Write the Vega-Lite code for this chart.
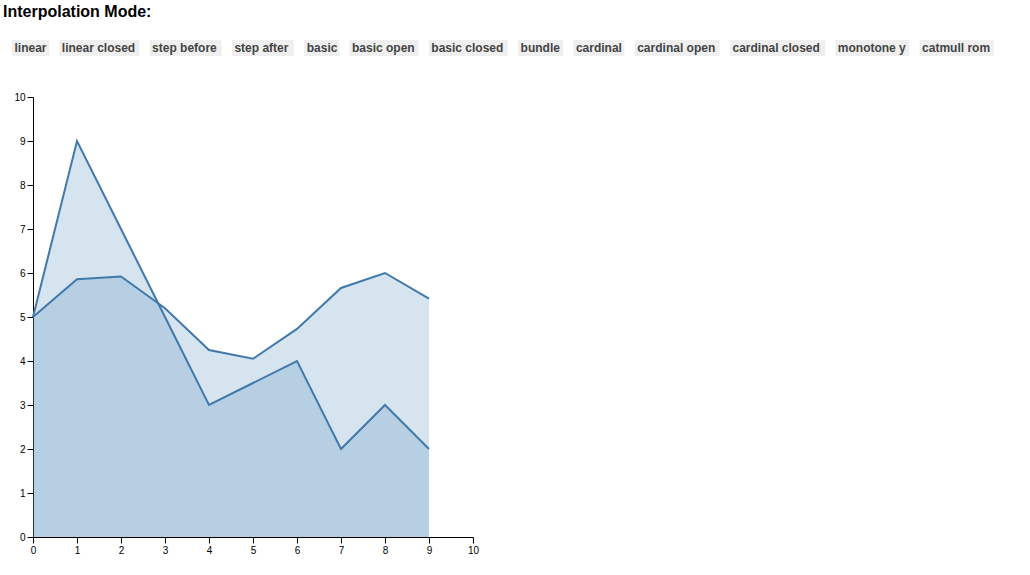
{
  "$schema": "https://vega.github.io/schema/vega-lite/v6.json",
  "autosize": "none",
  "padding": {"left": 33, "top": 97, "right": 557, "bottom": 38},
  "width": 440,
  "height": 440,
  "background": "white",
  "title": {
    "text": "Interpolation Mode:",
    "anchor": "start",
    "frame": "group",
    "font": "Liberation Sans",
    "fontSize": 16,
    "fontWeight": "bold",
    "color": "black",
    "dx": -30,
    "dy": -18
  },
  "config": {
    "view": {"stroke": null},
    "axis": {
      "labelFont": "Liberation Sans",
      "labelFontSize": 10,
      "labelColor": "black",
      "domainColor": "black",
      "tickColor": "black",
      "tickSize": 6,
      "grid": false,
      "title": null,
      "labelOverlap": false,
      "labelFlush": false
    }
  },
  "datasets": {
    "series": [
      {"x": 0, "y": 5, "series": "linear"},
      {"x": 1, "y": 9, "series": "linear"},
      {"x": 2, "y": 7, "series": "linear"},
      {"x": 3, "y": 5, "series": "linear"},
      {"x": 4, "y": 3, "series": "linear"},
      {"x": 5, "y": 3.5, "series": "linear"},
      {"x": 6, "y": 4, "series": "linear"},
      {"x": 7, "y": 2, "series": "linear"},
      {"x": 8, "y": 3, "series": "linear"},
      {"x": 9, "y": 2, "series": "linear"},
      {"x": 0, "y": 5, "series": "smooth"},
      {"x": 1, "y": 5.86, "series": "smooth"},
      {"x": 2, "y": 5.92, "series": "smooth"},
      {"x": 3, "y": 5.2, "series": "smooth"},
      {"x": 4, "y": 4.25, "series": "smooth"},
      {"x": 5, "y": 4.05, "series": "smooth"},
      {"x": 6, "y": 4.73, "series": "smooth"},
      {"x": 7, "y": 5.66, "series": "smooth"},
      {"x": 8, "y": 6.0, "series": "smooth"},
      {"x": 9, "y": 5.42, "series": "smooth"}
    ],
    "modes": [
      {"mode": "linear"},
      {"mode": "linear closed"},
      {"mode": "step before"},
      {"mode": "step after"},
      {"mode": "basic"},
      {"mode": "basic open"},
      {"mode": "basic closed"},
      {"mode": "bundle"},
      {"mode": "cardinal"},
      {"mode": "cardinal open"},
      {"mode": "cardinal closed"},
      {"mode": "monotone y"},
      {"mode": "catmull rom"}
    ]
  },
  "layer": [
    {
      "data": {"name": "series"},
      "mark": {"type": "area", "color": "#4682b4", "opacity": 0.22},
      "encoding": {
        "x": {"field": "x", "type": "quantitative", "scale": {"domain": [0, 10]}, "axis": {"values": [0,1,2,3,4,5,6,7,8,9,10]}},
        "y": {"field": "y", "type": "quantitative", "stack": null, "scale": {"domain": [0, 10]}, "axis": {"values": [0,1,2,3,4,5,6,7,8,9,10]}},
        "detail": {"field": "series"}
      }
    },
    {
      "data": {"name": "series"},
      "mark": {"type": "line", "color": "#4179ab", "strokeWidth": 2},
      "encoding": {
        "x": {"field": "x", "type": "quantitative"},
        "y": {"field": "y", "type": "quantitative"},
        "detail": {"field": "series"}
      }
    },
    {
      "data": {"name": "modes"},
      "mark": {"type": "point", "opacity": 0, "filled": true, "size": 4, "color": "#efefef"},
      "encoding": {
        "shape": {
          "field": "mode",
          "type": "nominal",
          "sort": null,
          "scale": {"range": [
            "M-1,-8H36V8H-1Z",
            "M-1,-8H79V8H-1Z",
            "M-1,-8H71V8H-1Z",
            "M-1,-8H61V8H-1Z",
            "M-1,-8H34V8H-1Z",
            "M-1,-8H68V8H-1Z",
            "M-1,-8H78V8H-1Z",
            "M-1,-8H44V8H-1Z",
            "M-1,-8H50V8H-1Z",
            "M-1,-8H84V8H-1Z",
            "M-1,-8H94V8H-1Z",
            "M-1,-8H73V8H-1Z",
            "M-1,-8H73V8H-1Z"
          ]},
          "legend": {
            "orient": "none",
            "direction": "horizontal",
            "legendX": -26,
            "legendY": -55,
            "title": null,
            "padding": 0,
            "symbolSize": 4,
            "symbolStrokeWidth": 1,
            "symbolOpacity": 1,
            "symbolFillColor": "#efefef",
            "symbolStrokeColor": "#dedede",
            "labelOffset": -4.5,
            "columnPadding": 3.3,
            "labelFont": "Liberation Sans",
            "labelFontSize": 12,
            "labelFontWeight": "bold",
            "labelColor": "#444444",
            "labelLimit": 300
          }
        }
      }
    }
  ]
}
